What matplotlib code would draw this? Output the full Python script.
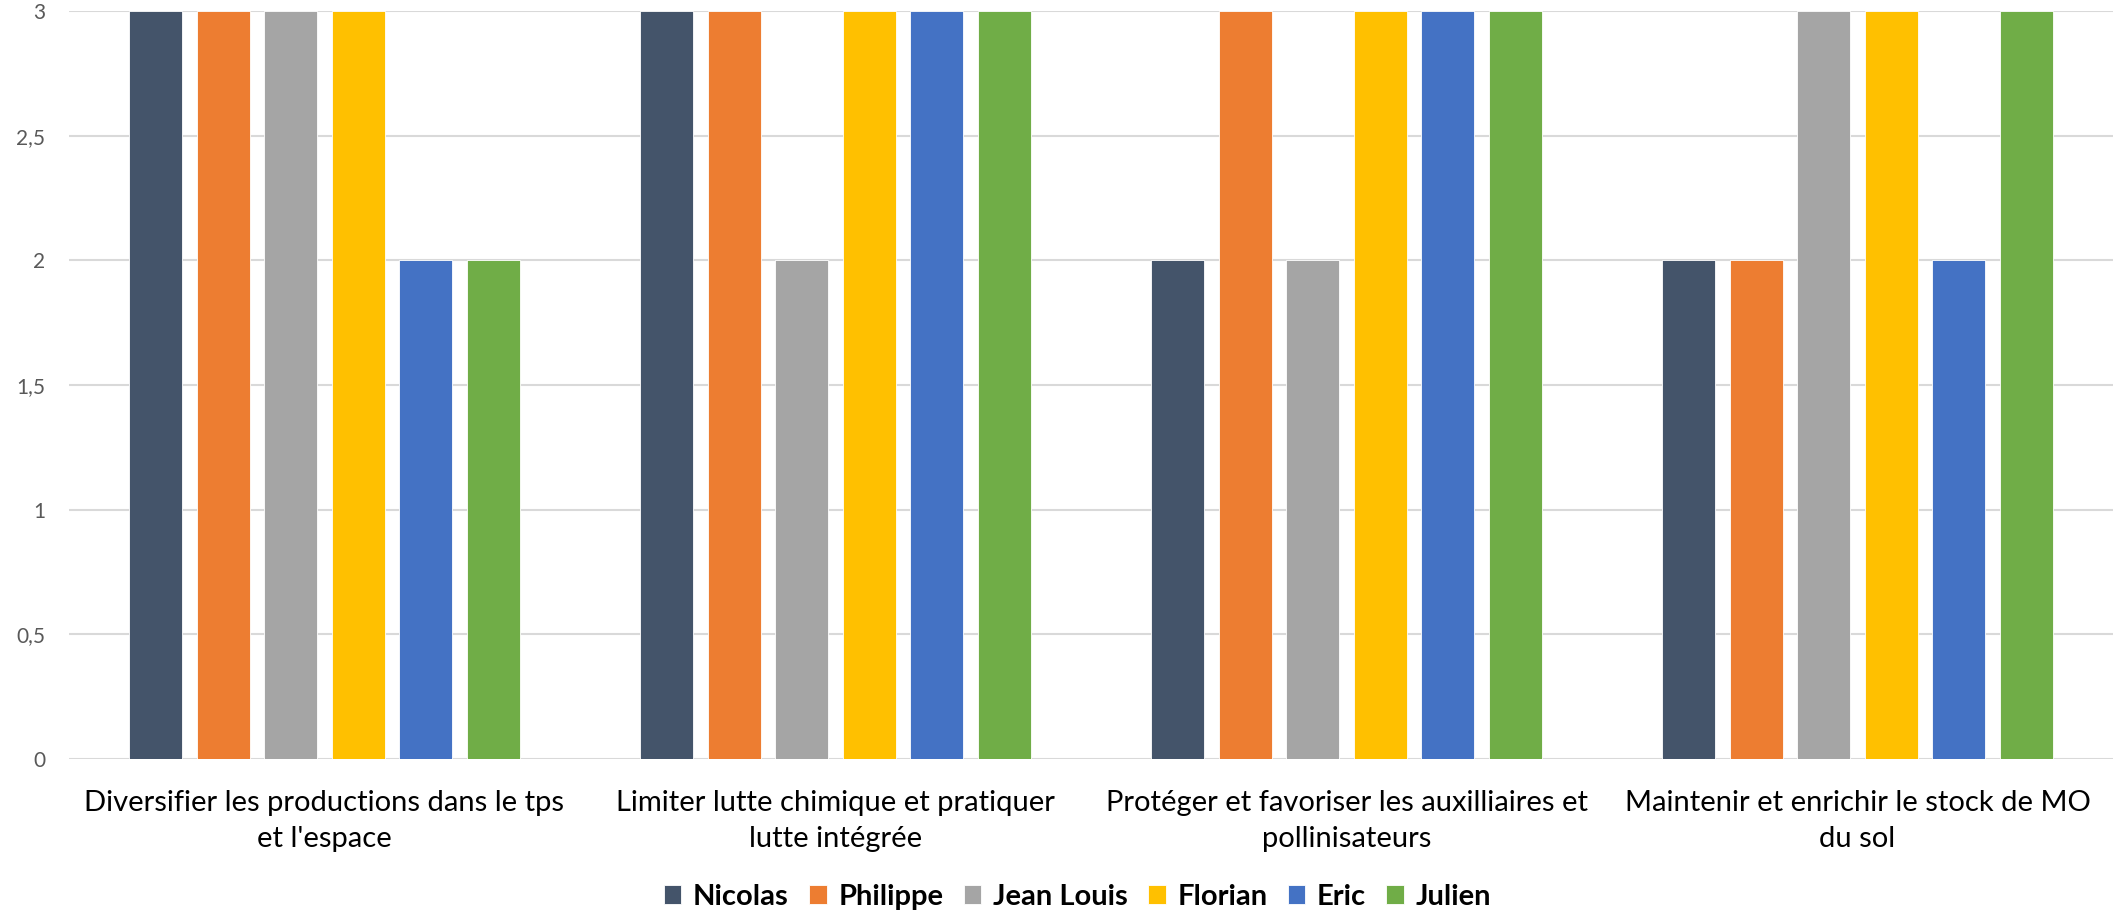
import numpy as np
import matplotlib
matplotlib.use('Agg')
import matplotlib.pyplot as plt

categories = ["Diversifier les productions dans le tps\net l'espace",
              "Limiter lutte chimique et pratiquer\nlutte intégrée",
              "Protéger et favoriser les auxilliaires et\npollinisateurs",
              "Maintenir et enrichir le stock de MO\ndu sol"]
people = ['Nicolas', 'Philippe', 'Jean Louis', 'Florian', 'Eric', 'Julien']
nicolas = [3, 3, 2, 2]
philippe = [3, 3, 3, 2]
jean_louis = [3, 2, 2, 3]
florian = [3, 3, 3, 3]
eric = [2, 3, 3, 2]
julien = [2, 3, 3, 3]
colors = ['#44546A', '#ED7D31', '#A5A5A5', '#FFC000', '#4472C4', '#70AD47']
yticks = [0, 0.5, 1, 1.5, 2, 2.5, 3]
ytick_labels = ['0', '0,5', '1', '1,5', '2', '2,5', '3']

plt.rcParams['font.family'] = ['Lato', 'DejaVu Sans']

fig = plt.figure(figsize=(21.21, 9.16), dpi=100)
ax = fig.add_axes([69 / 2121, 1 - 759 / 916, 2044 / 2121, (759 - 11) / 916])

series = [nicolas, philippe, jean_louis, florian, eric, julien]
x = np.arange(len(categories))
width = 0.1037
step = 0.1322
for i, (name, vals) in enumerate(zip(people, series)):
    offs = (i - 2.5) * step
    ax.bar(x + offs, vals, width, color=colors[i], label=name,
           edgecolor='white', linewidth=0.6, zorder=2)

ax.set_xlim(-0.5, 3.5)
ax.set_ylim(0, 3)
ax.set_yticks(yticks)
ax.set_yticklabels(ytick_labels, fontsize=15, color='#595959')
ax.set_xticks(x)
ax.set_xticklabels(categories, fontsize=21, color='black', linespacing=1.5)
ax.tick_params(axis='y', length=0, pad=17)
ax.tick_params(axis='x', length=0, pad=22)
ax.yaxis.grid(True, color='#D9D9D9', linewidth=1.5, zorder=0)
ax.set_axisbelow(True)
for s in ax.spines.values():
    s.set_visible(False)

fig.legend(loc='center', bbox_to_anchor=(0.508, 1 - 897 / 916), ncol=6,
           frameon=False, handlelength=0.6, handleheight=0.6,
           handletextpad=0.4, columnspacing=0.7,
           prop={'family': 'Lato', 'weight': 'bold', 'size': 21})

fig.savefig('out.png', dpi=100)
